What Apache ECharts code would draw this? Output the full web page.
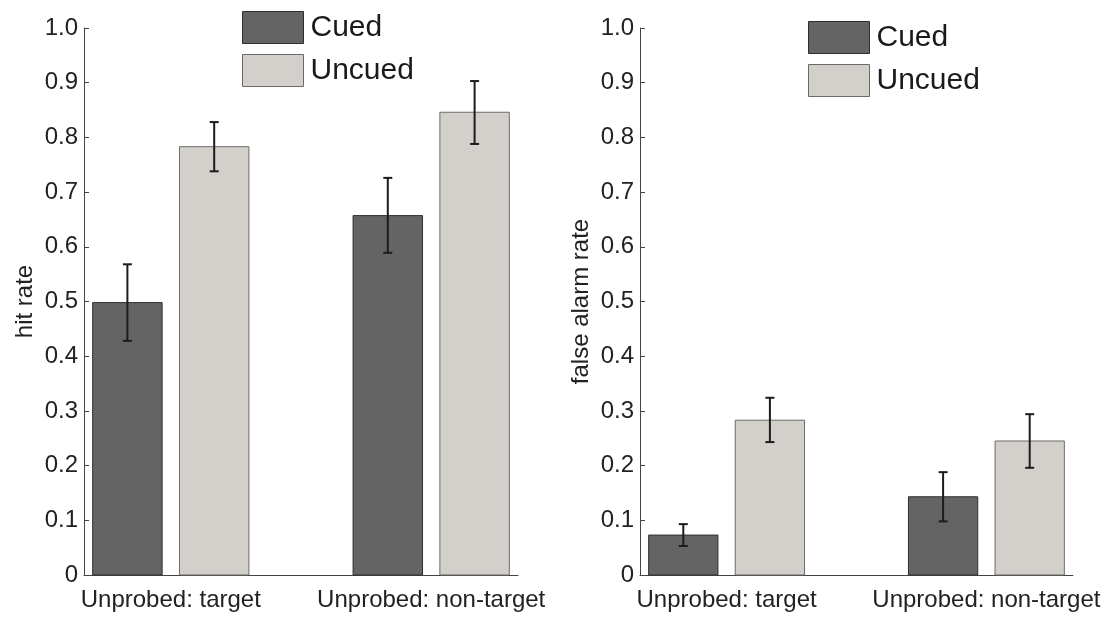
<!DOCTYPE html>
<html>
<head>
<meta charset="utf-8">
<script src="https://cdn.jsdelivr.net/npm/echarts@6/dist/echarts.min.js"></script>
<style>
	html, body { margin: 0; padding: 0; background: #fff; }
	#main { width: 1114px; height: 617px; }
</style>
</head>
<body>
<div id="main"></div>
<script>
// groups on the x axis (placed at 1 and 2)
var categories = ['Unprobed: target', 'Unprobed: non-target'];
var groupPos = [1, 2];

// hit rate
var hitCued = [0.498, 0.657];
var hitCuedLow = [0.428, 0.589];
var hitCuedHigh = [0.568, 0.726];
var hitUncued = [0.783, 0.846];
var hitUncuedLow = [0.738, 0.788];
var hitUncuedHigh = [0.828, 0.903];

// false alarm rate
var faCued = [0.073, 0.143];
var faCuedLow = [0.053, 0.098];
var faCuedHigh = [0.093, 0.188];
var faUncued = [0.283, 0.245];
var faUncuedLow = [0.243, 0.196];
var faUncuedHigh = [0.324, 0.294];

(function () {
	var myChart = echarts.init(document.getElementById('main'));
	var font = "'Liberation Sans', Arial, sans-serif";
	var cuedColor = '#646464';
	var cuedBorder = '#2e2e2e';
	var uncuedColor = '#d3d0cc';
	var uncuedBorder = '#6a6a6a';
	var barW = 0.8 / 3;

	function rows(vals, low, high) {
		var out = [];
		for (var i = 0; i < vals.length; i++) {
			out.push([groupPos[i], vals[i], low[i], high[i]]);
		}
		return out;
	}

	function barRender(offset, fill, stroke) {
		return function (params, api) {
			var x = api.value(0) + offset;
			var tl = api.coord([x - barW / 2, api.value(1)]);
			var br = api.coord([x + barW / 2, 0]);
			var lo = api.coord([x, api.value(2)]);
			var hi = api.coord([x, api.value(3)]);
			var cap = 4.5;
			var eStyle = { stroke: '#1c1c1c', lineWidth: 2 };
			return {
				type: 'group',
				children: [
					{
						type: 'rect',
						shape: { x: tl[0], y: tl[1], width: br[0] - tl[0], height: br[1] - tl[1] },
						style: { fill: fill, stroke: stroke, lineWidth: 1 }
					},
					{ type: 'line', shape: { x1: lo[0], y1: lo[1], x2: hi[0], y2: hi[1] }, style: eStyle },
					{ type: 'line', shape: { x1: lo[0] - cap, y1: lo[1], x2: lo[0] + cap, y2: lo[1] }, style: eStyle },
					{ type: 'line', shape: { x1: hi[0] - cap, y1: hi[1], x2: hi[0] + cap, y2: hi[1] }, style: eStyle }
				]
			};
		};
	}

	function xAxis(idx) {
		return {
			type: 'value',
			gridIndex: idx,
			min: 2 / 3,
			max: 7 / 3,
			splitLine: { show: false },
			axisTick: { show: false },
			axisLine: { show: true, onZero: false, lineStyle: { color: '#444', width: 1 } },
			axisLabel: {
				customValues: groupPos,
				formatter: function (v) {
					return categories[Math.round(v) - 1];
				},
				fontSize: 24,
				fontFamily: font,
				color: '#222',
				margin: 13
			}
		};
	}

	function yAxis(idx, name) {
		return {
			type: 'value',
			gridIndex: idx,
			min: 0,
			max: 1,
			interval: 0.1,
			name: name,
			nameLocation: 'middle',
			nameGap: 47,
			nameTextStyle: { fontSize: 24, fontFamily: font, color: '#222' },
			splitLine: { show: false },
			axisLine: { show: true, lineStyle: { color: '#444', width: 1 } },
			axisTick: { show: true, inside: true, length: 5, lineStyle: { color: '#444' } },
			axisLabel: {
				fontSize: 24,
				fontFamily: font,
				color: '#222',
				margin: 6,
				formatter: function (v) {
					return v === 0 ? '0' : v.toFixed(1);
				}
			}
		};
	}

	function legend(left, top) {
		return {
			left: left,
			top: top,
			padding: 0,
			orient: 'vertical',
			itemWidth: 61,
			itemHeight: 32,
			itemGap: 10,
			selectedMode: false,
			textStyle: { fontSize: 30, fontFamily: font, color: '#1a1a1a', padding: [0, 0, 0, 2] },
			data: [
				{ name: 'Cued', icon: 'rect', itemStyle: { color: cuedColor, borderColor: cuedBorder, borderWidth: 1 } },
				{ name: 'Uncued', icon: 'rect', itemStyle: { color: uncuedColor, borderColor: uncuedBorder, borderWidth: 1 } }
			]
		};
	}

	var option = {
		backgroundColor: '#fff',
		animation: false,
		grid: [
			{ left: 84, top: 28, width: 434, height: 547 },
			{ left: 640, top: 28, width: 433, height: 547 }
		],
		legend: [legend(242, 11), legend(808, 21)],
		xAxis: [xAxis(0), xAxis(1)],
		yAxis: [yAxis(0, 'hit rate'), yAxis(1, 'false alarm rate')],
		series: [
			{
				name: 'Cued', type: 'custom', xAxisIndex: 0, yAxisIndex: 0,
				itemStyle: { color: cuedColor },
				encode: { x: 0, y: [1, 2, 3] },
				renderItem: barRender(-1 / 6, cuedColor, cuedBorder),
				data: rows(hitCued, hitCuedLow, hitCuedHigh)
			},
			{
				name: 'Uncued', type: 'custom', xAxisIndex: 0, yAxisIndex: 0,
				itemStyle: { color: uncuedColor },
				encode: { x: 0, y: [1, 2, 3] },
				renderItem: barRender(1 / 6, uncuedColor, uncuedBorder),
				data: rows(hitUncued, hitUncuedLow, hitUncuedHigh)
			},
			{
				name: 'Cued', type: 'custom', xAxisIndex: 1, yAxisIndex: 1,
				itemStyle: { color: cuedColor },
				encode: { x: 0, y: [1, 2, 3] },
				renderItem: barRender(-1 / 6, cuedColor, cuedBorder),
				data: rows(faCued, faCuedLow, faCuedHigh)
			},
			{
				name: 'Uncued', type: 'custom', xAxisIndex: 1, yAxisIndex: 1,
				itemStyle: { color: uncuedColor },
				encode: { x: 0, y: [1, 2, 3] },
				renderItem: barRender(1 / 6, uncuedColor, uncuedBorder),
				data: rows(faUncued, faUncuedLow, faUncuedHigh)
			}
		]
	};
	myChart.setOption(option);
	window.addEventListener('resize', function () {
		myChart.resize();
	});
})();
</script>
</body>
</html>
